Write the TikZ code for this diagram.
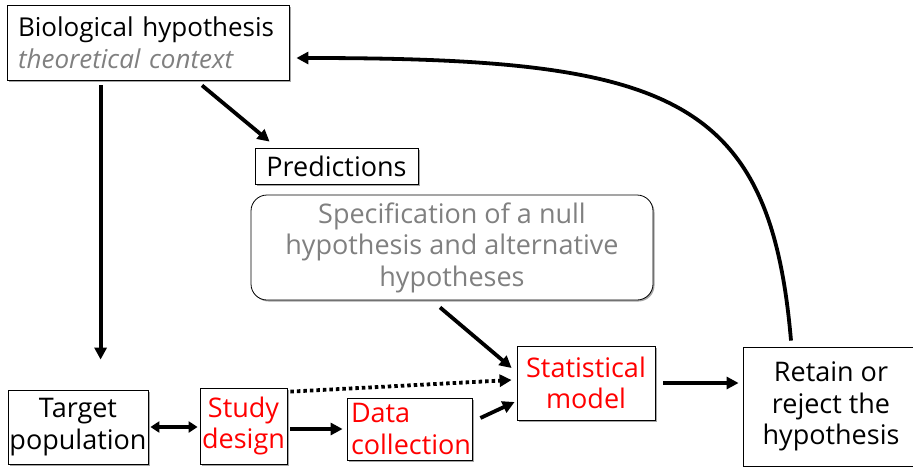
\documentclass[tikz,border=0pt]{standalone}
\usepackage{fontspec}
\setmainfont{Open Sans}
\usetikzlibrary{arrows.meta,shadows}
\definecolor{softgray}{RGB}{128,128,128}
\begin{document}
\begin{tikzpicture}[x=1pt,y=-1pt,
    box/.style={draw,line width=0.8pt,fill=white,inner sep=0pt,
      font=\fontsize{27}{31.5}\selectfont,align=center,
      drop shadow={shadow xshift=1.5pt,shadow yshift=-1.5pt,fill=black!35,opacity=1}},
    redtxt/.style={text=red},
    arr/.style={line width=3.8pt,-{Triangle[length=12pt,width=12pt]}},
    dotline/.style={line width=3.8pt,dash pattern=on 3.5pt off 3pt,-{Triangle[length=12pt,width=12pt]}}]
  \useasboundingbox (0,0) rectangle (913,466);
  \node[box,minimum width=282pt,minimum height=75pt,text width=260pt,align=left,
    font={\fontsize{26}{31.5}\selectfont\hyphenpenalty 10000\relax}] (hyp) at (148,42.5)
    {Biological hypothesis\\\textcolor{softgray}{\itshape theoretical context}};
  \node[box,minimum width=163pt,minimum height=36pt] (pred) at (336.5,166) {Predictions};
  \node[box,minimum width=402pt,minimum height=105pt,rounded corners=16pt,
    text=softgray,drop shadow={opacity=0}] (null) at (452,247.5)
    {Specification of a null\\hypothesis and alternative\\hypotheses};
  \node[box,minimum width=140pt,minimum height=74pt] (target) at (78,427) {Target\\population};
  \node[box,redtxt,minimum width=87pt,minimum height=76pt] (design) at (243.5,426) {Study\\design};
  \node[box,redtxt,minimum width=125pt,minimum height=62pt,text width=117pt,align=left] (collect) at (409.5,429)
    {Data\\collection};
  \node[box,redtxt,minimum width=138pt,minimum height=74pt] (stat) at (586,383) {Statistical\\model};
  \node[box,minimum width=176pt,minimum height=119pt] (retain) at (831,406.5)
    {Retain or\\reject the\\hypothesis};
  \draw[arr] ([xshift=94pt,yshift=-5pt]hyp.south west) -- ([xshift=93pt,yshift=30pt]target.north west);
  \draw[arr] ([xshift=54pt,yshift=-5pt]hyp.south) -- ([xshift=15pt,yshift=6pt]pred.north west);
  \draw[arr] ([xshift=-12pt,yshift=-7pt]null.south) -- ([xshift=-5pt,yshift=15pt]stat.west);
  \draw[line width=3.8pt,{Triangle[length=9pt,width=11pt]}-{Triangle[length=9pt,width=11pt]},
    shorten <=2pt,shorten >=2pt] (target.east) -- (target.east -| design.west);
  \draw[arr,shorten <=3pt,shorten >=4pt] (design.east |- collect.west) -- (collect.west);
  \draw[arr] ([xshift=8pt,yshift=11pt]collect.east) -- ([xshift=-2pt,yshift=-19pt]stat.west);
  \draw[dotline] ([xshift=3pt,yshift=-4pt]design.north east) -- ([xshift=-5pt,yshift=3pt]stat.west);
  \draw[arr,shorten <=8pt,shorten >=4pt] (stat.east) -- (stat.east -| retain.west);
  \draw[arr] ([xshift=-40pt,yshift=6pt]retain.north) .. controls (770,95) and (670,58) ..
    ([xshift=7pt,yshift=-15.5pt]hyp.east);
\end{tikzpicture}
\end{document}
